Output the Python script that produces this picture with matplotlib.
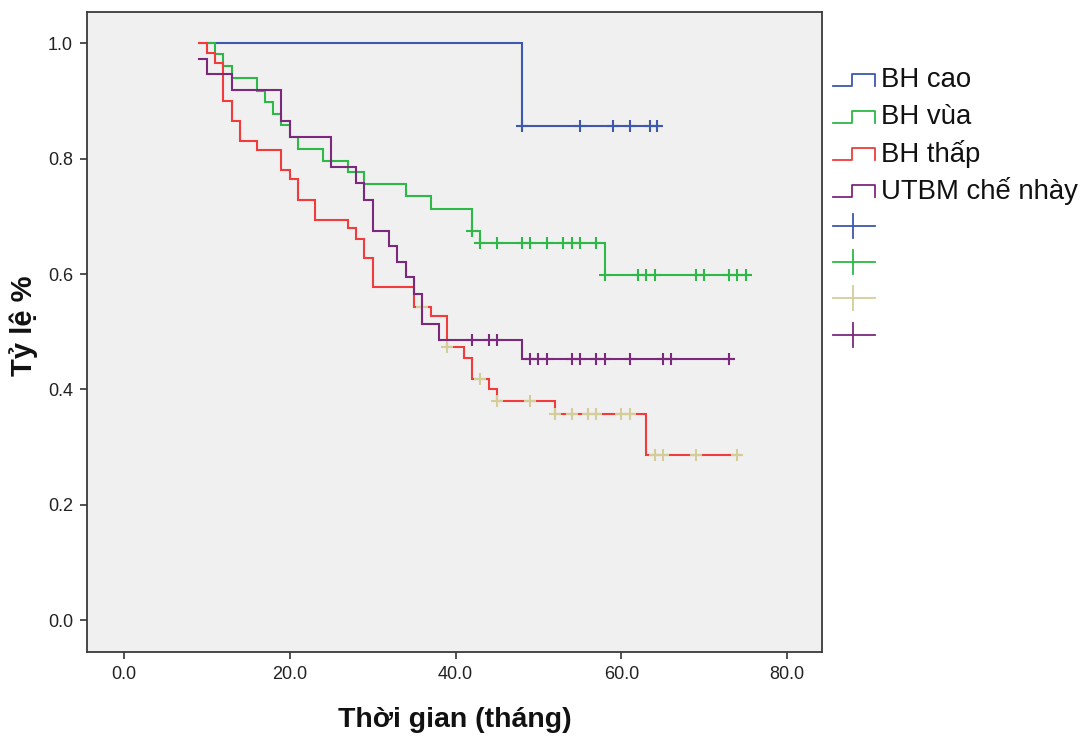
import matplotlib
matplotlib.use("Agg")
import matplotlib.pyplot as plt
from matplotlib.lines import Line2D
import numpy as np

plt.rcParams['font.family'] = ['Liberation Sans', 'DejaVu Sans']

# ---- data ----
group_names = ["BH cao", "BH vùa", "BH thấp", "UTBM chế nhày"]

cao_times = [10, 48]
cao_surv = [1.0, 0.857]
cao_end = 64.5
cao_censor = [48, 55, 59, 61, 63.5, 64.3]

vua_times = [10, 11, 12, 13, 16, 17, 18, 19, 20, 21, 24, 27, 29, 34, 37, 42, 43, 58]
vua_surv = [1.0, 0.981, 0.960, 0.939, 0.917, 0.898, 0.878, 0.858, 0.838, 0.817,
            0.796, 0.777, 0.756, 0.735, 0.713, 0.675, 0.653, 0.598]
vua_end = 75.5
vua_censor = [42, 43, 45, 48, 49, 51, 53, 54, 55, 57, 58, 62, 63, 64, 69, 70, 73, 74, 75]

thap_times = [9, 10, 11, 12, 13, 14, 16, 19, 20, 21, 23, 27, 28, 29, 30, 35, 37, 39,
              41, 42, 44, 45, 52, 63]
thap_surv = [1.0, 0.983, 0.966, 0.8995, 0.865, 0.830, 0.8145, 0.780, 0.764, 0.728,
             0.693, 0.679, 0.660, 0.627, 0.578, 0.543, 0.527, 0.474, 0.454, 0.418,
             0.400, 0.380, 0.357, 0.286]
thap_end = 74.3
thap_censor = [36, 39, 43, 45, 49, 52, 54, 56, 57, 60, 61, 64, 65, 69, 74]

nhay_times = [9, 10, 13, 19, 20, 25, 28, 29, 30, 32, 33, 34, 35, 36, 38, 48]
nhay_surv = [0.972, 0.947, 0.919, 0.865, 0.838, 0.786, 0.757, 0.728, 0.675, 0.648,
             0.621, 0.594, 0.566, 0.514, 0.485, 0.452]
nhay_end = 73.5
nhay_censor = [42, 44, 45, 49, 50, 51, 54, 55, 57, 58, 61, 65, 66, 73]

x_ticks = [0, 20, 40, 60, 80]
y_ticks = [0.0, 0.2, 0.4, 0.6, 0.8, 1.0]

line_colors = ["#3E58AC", "#2EB848", "#F23C3C", "#7C287D"]
censor_colors = ["#3E58AC", "#2EB848", "#D3CE97", "#7C287D"]

groups = [
    (cao_times, cao_surv, cao_end, cao_censor),
    (vua_times, vua_surv, vua_end, vua_censor),
    (thap_times, thap_surv, thap_end, thap_censor),
    (nhay_times, nhay_surv, nhay_end, nhay_censor),
]

W, H = 1088, 740
fig = plt.figure(figsize=(W / 100, H / 100), dpi=100)
fig.patch.set_facecolor("white")
ax = fig.add_axes([87 / W, 1 - 652 / H, (822 - 87) / W, (652 - 12) / H])
ax.set_facecolor("#F0F0F0")

for (t, s, end, cens), lc, cc in zip(groups, line_colors, censor_colors):
    xs = list(t) + [end]
    ys = list(s) + [s[-1]]
    ax.step(xs, ys, where="post", color=lc, lw=1.5, solid_joinstyle="miter")
    idx = np.searchsorted(np.array(t), np.array(cens), side="right") - 1
    cy = np.array(s)[idx]
    ax.plot(cens, cy, linestyle="none", marker="+", markersize=9,
            markeredgewidth=1.5, color=cc)

ax.set_xlim(-4.45, 84.2)
ax.set_ylim(-0.055, 1.054)
ax.set_xticks(x_ticks)
ax.set_yticks(y_ticks)
ax.set_xticklabels([f"{v:.1f}" for v in x_ticks])
ax.set_yticklabels([f"{v:.1f}" for v in y_ticks])
ax.tick_params(direction="out", length=5, width=1.1, labelsize=13,
               colors="#222222", pad=5)
for sp in ax.spines.values():
    sp.set_color("#3a3a3a")
    sp.set_linewidth(1.3)

def fx(px):
    return px / W

def fy(py):
    return 1 - py / H

fig.text(fx(455), fy(720), "Thời gian (tháng)", fontsize=20.5, fontweight="bold",
         ha="center", va="center", color="#111111")
fig.text(fx(24), fy(326), "Tỷ lệ %", fontsize=21, fontweight="bold",
         ha="center", va="center", rotation=90, color="#111111")

# ---- legend drawn at the right of the plot ----
entry_y = [80, 117, 154, 191, 226, 262, 298, 335]
for i, name in enumerate(group_names):
    yc = entry_y[i]
    xs = [833, 852, 852, 875, 875]
    ys = [yc + 6, yc + 6, yc - 6, yc - 6, yc + 6]
    fig.add_artist(Line2D([fx(v) for v in xs], [fy(v) for v in ys],
                          transform=fig.transFigure, color=line_colors[i], lw=1.3))
    fig.text(fx(881), fy(yc), name, fontsize=19.8, va="center", ha="left",
             color="#111111")
for i in range(4):
    yc = entry_y[4 + i]
    fig.add_artist(Line2D([fx(833), fx(875)], [fy(yc), fy(yc)],
                          transform=fig.transFigure, color=censor_colors[i], lw=1.3))
    fig.add_artist(Line2D([fx(853), fx(853)], [fy(yc - 12), fy(yc + 12)],
                          transform=fig.transFigure, color=censor_colors[i], lw=1.3))

fig.savefig("out.png", dpi=100, facecolor="white")
